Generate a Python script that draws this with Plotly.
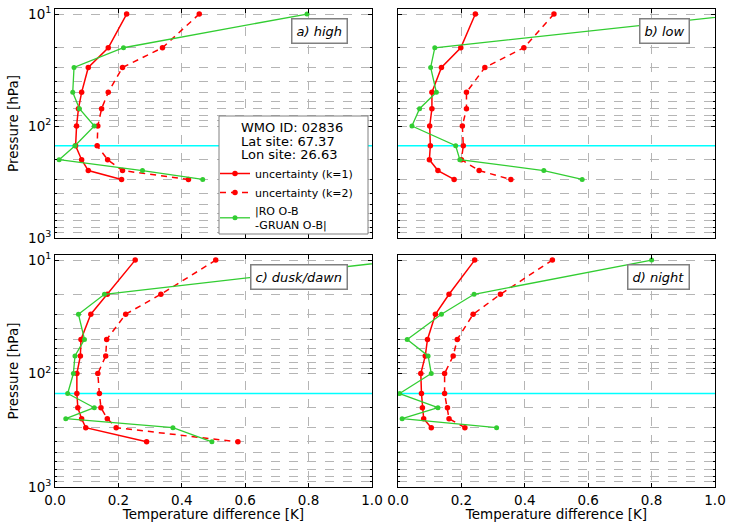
import plotly.graph_objects as go
from plotly.subplots import make_subplots

# ---------------- data ----------------
P_STD = [10, 20, 30, 50, 70, 100, 150, 200, 250, 300]
P_DUSK = [10, 20, 30, 50, 70, 100, 150, 200, 250, 300, 400]

HIGH_K1 = [0.226, 0.168, 0.105, 0.084, 0.074, 0.068, 0.065, 0.084, 0.105, 0.210]
HIGH_K2 = [0.455, 0.339, 0.213, 0.168, 0.147, 0.135, 0.133, 0.166, 0.213, 0.421]
HIGH_DIFF = [0.795, 0.216, 0.060, 0.056, 0.077, 0.124, 0.063, 0.013, 0.276, 0.466]

LOW_K1 = [0.244, 0.198, 0.137, 0.107, 0.107, 0.100, 0.102, 0.099, 0.126, 0.177]
LOW_K2 = [0.492, 0.397, 0.274, 0.216, 0.216, 0.203, 0.206, 0.200, 0.256, 0.356]
LOW_DIFF = [1.100, 0.116, 0.103, 0.121, 0.068, 0.044, 0.182, 0.195, 0.460, 0.581]

DUSK_K1 = [0.253, 0.165, 0.113, 0.082, 0.080, 0.069, 0.069, 0.072, 0.084, 0.097, 0.289]
DUSK_K2 = [0.507, 0.334, 0.223, 0.163, 0.160, 0.135, 0.140, 0.145, 0.165, 0.193, 0.577]
DUSK_DIFF = [1.100, 0.156, 0.074, 0.093, 0.063, 0.058, 0.040, 0.124, 0.034, 0.372, 0.495]

NIGHT_K1 = [0.242, 0.161, 0.118, 0.093, 0.086, 0.072, 0.074, 0.077, 0.081, 0.105]
NIGHT_K2 = [0.487, 0.323, 0.237, 0.187, 0.174, 0.147, 0.147, 0.156, 0.161, 0.211]
NIGHT_DIFF = [0.800, 0.240, 0.137, 0.029, 0.095, 0.105, 0.005, 0.126, 0.013, 0.311]

PANEL_LABELS = ["a) high", "b) low", "c) dusk/dawn", "d) night"]
TROPOPAUSE_HPA = 150
STATION_INFO = ["WMO ID: 02836", "Lat site: 67.37", "Lon site: 26.63"]
SERIES_NAMES = ["uncertainty (k=1)", "uncertainty (k=2)", "|RO O-B<br>-GRUAN O-B|"]

X_TICKS = [0.0, 0.2, 0.4, 0.6, 0.8, 1.0]
X_TICK_LABELS = ["0.0", "0.2", "0.4", "0.6", "0.8", "1.0"]
Y_MAJOR = [10, 100, 1000]
Y_MAJOR_LABELS = ["10<sup>1</sup>", "10<sup>2</sup>", "10<sup>3</sup>"]
Y_MINOR = [20, 30, 40, 50, 60, 70, 80, 90, 200, 300, 400, 500, 600, 700, 800, 900]

panels = [
    (P_STD, HIGH_K1, HIGH_K2, HIGH_DIFF),
    (P_STD, LOW_K1, LOW_K2, LOW_DIFF),
    (P_DUSK, DUSK_K1, DUSK_K2, DUSK_DIFF),
    (P_STD, NIGHT_K1, NIGHT_K2, NIGHT_DIFF),
]

RED = "#ff0000"
GREEN = "#32cd32"
CYAN = "#00ffff"
FONT = "DejaVu Sans"

# layout geometry in pixels
W, H = 729, 522
ML, MR, MT, MB = 55, 14, 9, 35
PW, PH = W - ML - MR, H - MT - MB


def px_x(x):
    return (x - ML) / PW


def px_y(y):
    return (H - MB - y) / PH


fig = make_subplots(rows=2, cols=2)

for i, (p, k1, k2, diff) in enumerate(panels):
    r, c = i // 2 + 1, i % 2 + 1
    first = i == 0
    fig.add_trace(go.Scatter(x=[0, 1], y=[TROPOPAUSE_HPA, TROPOPAUSE_HPA], mode="lines",
                             line=dict(color=CYAN, width=1.5), showlegend=False,
                             hoverinfo="skip"), row=r, col=c)
    fig.add_trace(go.Scatter(x=k1, y=p, mode="lines+markers", name=SERIES_NAMES[0],
                             line=dict(color=RED, width=1.5),
                             marker=dict(color=RED, size=5.5, symbol="circle"),
                             showlegend=first, legendrank=1), row=r, col=c)
    fig.add_trace(go.Scatter(x=k2, y=p, mode="lines+markers", name=SERIES_NAMES[1],
                             line=dict(color=RED, width=1.5, dash="6px,5px"),
                             marker=dict(color=RED, size=5.5, symbol="circle"),
                             showlegend=first, legendrank=2), row=r, col=c)
    fig.add_trace(go.Scatter(x=diff, y=p, mode="lines+markers", name=SERIES_NAMES[2],
                             line=dict(color=GREEN, width=1.3),
                             marker=dict(color=GREEN, size=5, symbol="circle"),
                             showlegend=first, legendrank=3), row=r, col=c)

# domains
xdom = [[0, px_x(372)], [px_x(398), 1.0]]
ydom = [[px_y(238), 1.0], [0.0, px_y(255)]]

for i in range(4):
    r, c = i // 2, i % 2
    sfx = "" if i == 0 else str(i + 1)
    fig.layout["xaxis" + sfx].update(
        domain=xdom[c], range=[0, 1], tickvals=X_TICKS, ticktext=X_TICK_LABELS,
        showticklabels=(r == 1), ticks="inside", ticklen=4, tickcolor="black",
        showline=True, linecolor="black", linewidth=1, mirror="ticks",
        showgrid=True, gridcolor="#b5b5b5", griddash="dash", gridwidth=1,
        zeroline=False, tickfont=dict(size=13.5, color="black"), ticklabelstandoff=1,
        automargin=False,
        title=dict(text="Temperature difference [K]" if r == 1 else "",
                   font=dict(size=13.5, color="black"), standoff=9),
    )
    fig.layout["yaxis" + sfx].update(
        domain=ydom[r], type="log", range=[3.0, 0.955],
        tickvals=Y_MAJOR, ticktext=Y_MAJOR_LABELS,
        showticklabels=(c == 0), ticks="inside", ticklen=4, tickcolor="black",
        showline=True, linecolor="black", linewidth=1, mirror="ticks",
        showgrid=True, gridcolor="#b5b5b5", griddash="dash", gridwidth=1,
        zeroline=False, tickfont=dict(size=13.5, color="black"), automargin=False,
        minor=dict(tickvals=Y_MINOR, ticks="inside", ticklen=2, tickcolor="black",
                   showgrid=True, gridcolor="#b5b5b5", griddash="dash", gridwidth=1),
        title=dict(text="Pressure [hPa]" if c == 0 else "",
                   font=dict(size=13.5, color="black"), standoff=6),
    )
    fig.add_annotation(
        xref=("x" + sfx + " domain"), yref=("y" + sfx + " domain"),
        x=0.924 if c == 0 else 0.921, y=0.961, xanchor="right", yanchor="top",
        text="<i>" + PANEL_LABELS[i] + "</i>", showarrow=False,
        font=dict(size=13, color="black", family=FONT),
        bordercolor="#808080", borderwidth=1.5, borderpad=4, bgcolor="white",
    )

# legend frame (opaque) holding the station info and the series entries
fig.add_shape(type="rect", xref="paper", yref="paper",
              x0=px_x(219), x1=px_x(368), y0=px_y(234), y1=px_y(116),
              fillcolor="white", line=dict(color="#808080", width=1), layer="above")
for j, line_txt in enumerate(STATION_INFO):
    fig.add_annotation(xref="paper", yref="paper", x=px_x(239), y=px_y(127 + 14 * j),
                       xanchor="left", yanchor="middle", text=line_txt, showarrow=False,
                       font=dict(size=13, color="black", family=FONT))

fig.update_layout(
    width=W, height=H,
    margin=dict(l=ML, r=MR, t=MT, b=MB),
    paper_bgcolor="white", plot_bgcolor="white",
    font=dict(family=FONT, color="black"),
    showlegend=True,
    legend=dict(
        x=px_x(215), y=px_y(159), xanchor="left", yanchor="top",
        bgcolor="rgba(0,0,0,0)", borderwidth=0,
        font=dict(size=11, color="black"),
        itemwidth=30, tracegroupgap=0,
    ),
)

fig.write_html("out.html")
